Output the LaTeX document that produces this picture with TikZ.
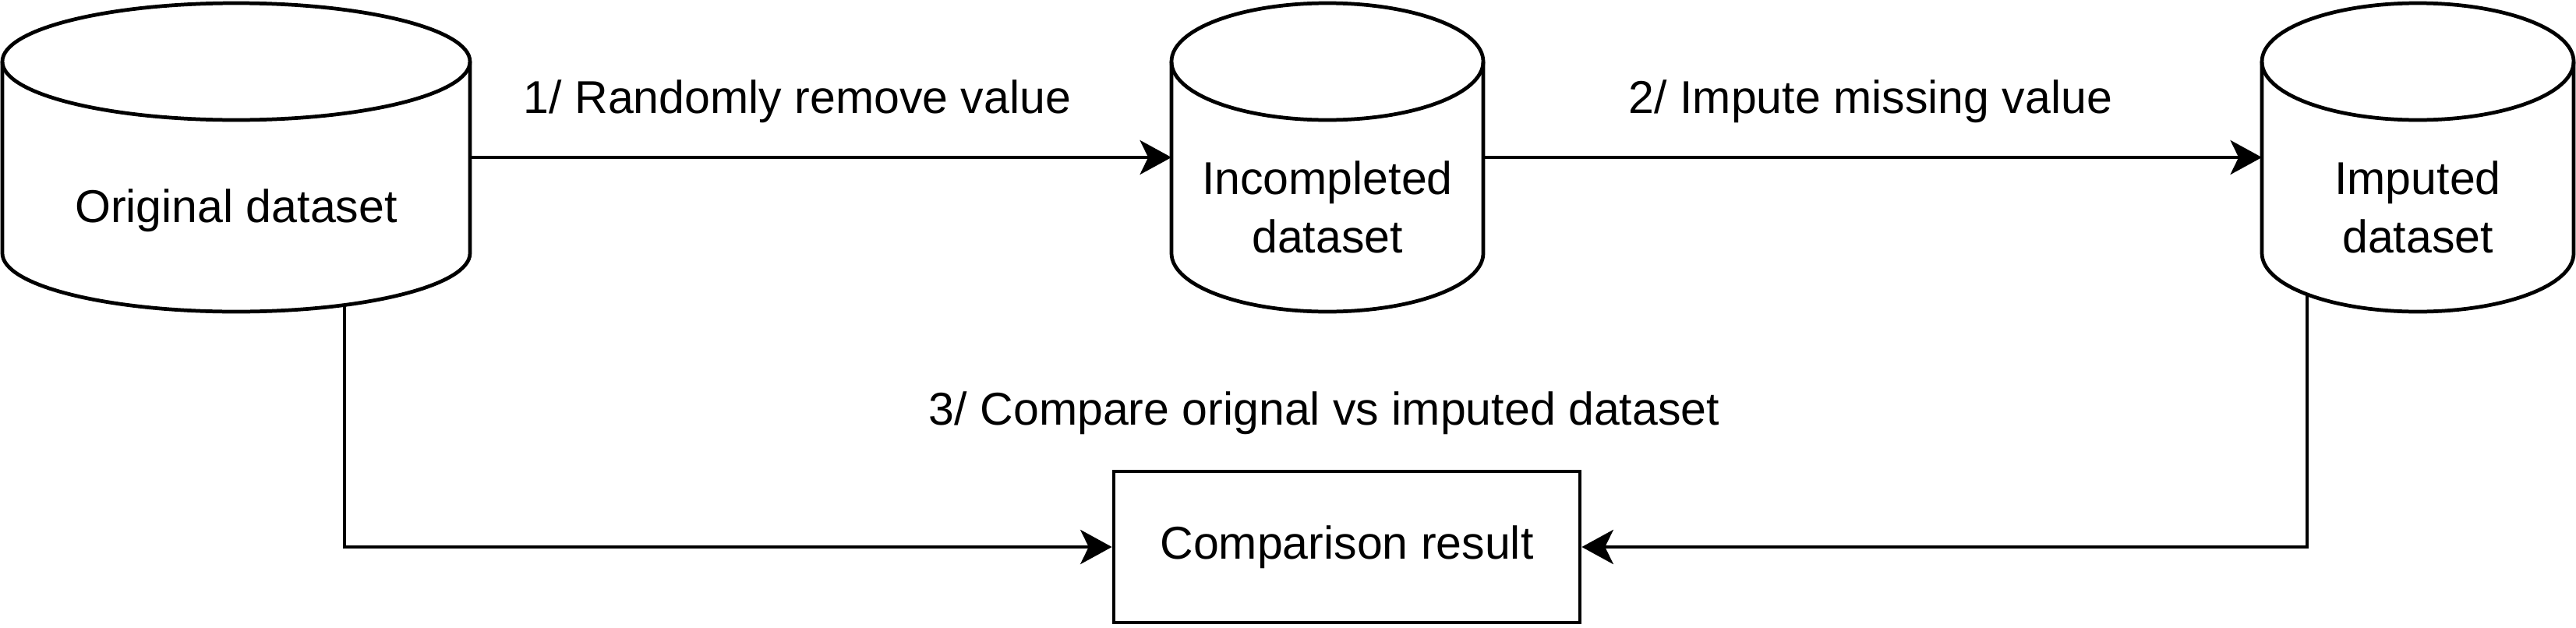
\documentclass[tikz,border=0pt]{standalone}
\usepackage{fontspec}
\setmainfont{Liberation Sans}
\usetikzlibrary{arrows.meta,intersections}

\tikzset{
  contorno/.style={line width=1.35pt},
  flecha/.style={contorno, -{Stealth[length=11.5pt,width=12.5pt,inset=3pt]}},
  texto/.style={font=\fontsize{16.8}{21.3}\selectfont, align=center, inner sep=0pt},
  caja/.style={contorno, draw, rectangle, minimum width=5.98cm, minimum height=1.94cm, texto}
}

% cilindro: nombre, centro x, radio x
\newcommand{\cilindro}[3]{%
  \draw[contorno, name path=#1-borde] (#2-#3,-0.79) -- (#2-#3,-3.25)
    arc[start angle=180, end angle=360, x radius=#3, y radius=0.75] -- (#2+#3,-0.79);
  \draw[contorno] (#2,-0.79) ellipse[x radius=#3, y radius=0.75];
  \coordinate (#1-W) at (#2-#3,-2.02);
  \coordinate (#1-E) at (#2+#3,-2.02);
}

\begin{document}
\begin{tikzpicture}

\useasboundingbox (0,0) rectangle (33.05,-8.05);

% Bases de datos
\cilindro{orig}{3.03}{3.0}
\cilindro{incomp}{17.03}{2.0}
\cilindro{imput}{31.02}{2.0}

\node[texto, anchor=base] (tOrig) at (3.03,-2.85) {Original dataset};
\node[texto] (tIncomp) at (17.03,-2.66) {Incompleted\\dataset};
\node[texto] (tImput) at (31.02,-2.66) {Imputed\\dataset};

\node[caja] (result) at (17.28,-7.02) {Comparison result};

% Salidas por debajo
\path[name path=bajadaOrig] (4.42,-3) -- (4.42,-5);
\path[name path=bajadaImput] (29.60,-3) -- (29.60,-5);
\path [name intersections={of=orig-borde and bajadaOrig, by=orig-S}];
\path [name intersections={of=imput-borde and bajadaImput, by=imput-S}];

\draw[flecha] (orig-E) -- (incomp-W);
\draw[flecha] (incomp-E) -- (imput-W);
\draw[flecha] (orig-S) |- (result.west);
\draw[flecha] (imput-S) |- (result.east);

\node[texto, anchor=base] (paso1) at (10.23,-1.45) {1/ Randomly remove value};
\node[texto, anchor=base] (paso2) at (24.00,-1.45) {2/ Impute missing value};
\node[texto, anchor=base] (paso3) at (16.99,-5.45) {3/ Compare orignal vs imputed dataset};

\end{tikzpicture}
\end{document}
